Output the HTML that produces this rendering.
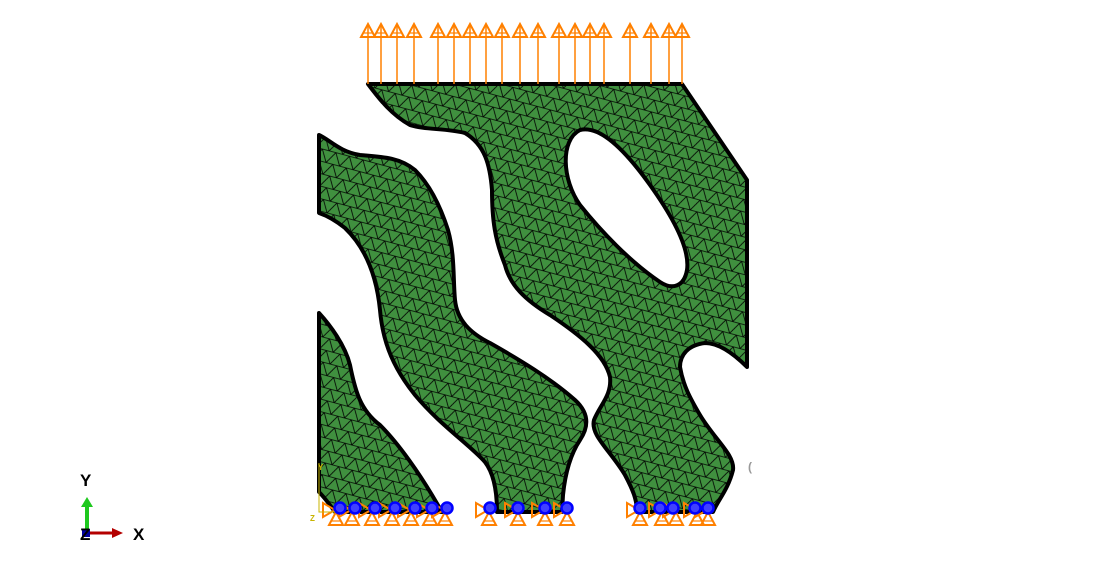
<!DOCTYPE html>
<html><head><meta charset="utf-8">
<style>
html,body{margin:0;padding:0;background:#fff;}
svg{display:block;}
text{font-family:"Liberation Sans",sans-serif;font-weight:bold;}
</style></head>
<body>
<svg id="s" width="1096" height="587" viewBox="0 0 1096 587" xmlns="http://www.w3.org/2000/svg">
<defs>
<pattern id="mesh" width="14" height="12.1" patternUnits="userSpaceOnUse" patternTransform="rotate(15)">
<rect width="14" height="12.1" fill="#40903f"/>
<path d="M0,0 L14,0 M0,0 L7,12.1 L14,0 M0,12.1 L14,12.1" stroke="#000" stroke-width="0.8" fill="none"/>
</pattern>
</defs>
<g fill="url(#mesh)" stroke="#000" stroke-width="4" stroke-linejoin="round">
<path fill-rule="evenodd"
d="M368,84 L682,84 L747,180 L747,367 C735,355 720,343 705,343 C688,345 680,355 680,367 C683,385 690,398 700,415 C715,440 735,455 733,470 C728,490 718,500 713,512 L637,512 C637,500 633,490 625,475 C610,450 590,435 594,420 C600,405 612,395 610,377 C605,355 580,335 550,315 C525,300 510,285 505,265 C495,240 492,220 492,190 C490,165 485,145 465,133 C445,128 425,130 410,125 C392,115 380,100 368,84 Z
M580,130 C600,125 625,150 650,185 C675,220 690,250 687,270 C684,287 672,290 660,282 C630,262 600,230 580,205 C562,180 560,140 580,130 Z"/>
<path
d="M319,135 C330,140 340,152 360,155 C385,157 400,158 415,170 C430,185 440,205 448,230 C455,255 453,280 455,300 C457,320 470,333 490,343 C520,360 550,378 575,400 C588,412 590,425 580,440 C570,455 565,475 563,495 L562,512 L497,512 C497,495 495,475 485,462 C470,445 440,425 415,395 C395,370 383,345 380,310 C377,280 368,250 345,228 C335,220 325,215 319,213 Z"/>
<path
d="M319,313 C330,325 345,345 350,365 C355,390 360,410 380,425 C400,445 420,475 432,495 L442,512 L335,512 C330,505 325,498 319,492 Z"/>
</g>
<g id="loads"></g>
<g id="bcs"></g>
<g stroke="#c8b400" fill="none" stroke-width="1">
<path d="M319,463 L319,512 L335,512"/>
<text x="310" y="521" font-size="8" fill="#c8b400" stroke="none" font-weight="normal">Z</text>
<text x="318" y="470" font-size="8" fill="#c8b400" stroke="none" font-weight="normal">Y</text>
</g>
<text x="748" y="471" font-size="12" fill="#999" font-weight="normal">(</text>
<g>
<line x1="87" y1="533" x2="87" y2="506" stroke="#1ec81e" stroke-width="4"/>
<polygon points="81,507 93,507 87,497" fill="#1ec81e"/>
<line x1="90" y1="533" x2="114" y2="533" stroke="#b40000" stroke-width="3"/>
<polygon points="112,528 112,538 123,533" fill="#b40000"/>
<rect x="82" y="529" width="8" height="8" fill="#0000a0"/>
<text x="80" y="486" font-size="17" fill="#000">Y</text>
<text x="80" y="540" font-size="17" fill="#000">Z</text>
<text x="133" y="540" font-size="17" fill="#000">X</text>
</g>
</svg>
<script>
var loadXs=[368,381,397,414,438,454,470,486,502,520,538,559,575,590,604,630,651,669,682];
var circleXs=[340,355,375,395,415,432,447,490,518,545,567,640,660,673,695,708];
var triXs=[336,352,372,392,411,430,445,489,518,545,567,640,662,676,697,708];
var NS='http://www.w3.org/2000/svg';
function mk(tag,attrs,parent){var e=document.createElementNS(NS,tag);for(var k in attrs)e.setAttribute(k,attrs[k]);parent.appendChild(e);return e;}
var L=document.getElementById('loads');
loadXs.forEach(function(x){
  var g=mk('g',{},L);
  
  
  mk('line',{x1:x,y1:84,x2:x,y2:26,stroke:'#ff8000','stroke-width':1.5},g);
  mk('polygon',{points:(x-7)+',37 '+(x+7)+',37 '+x+',24',fill:'none',stroke:'#ff8000','stroke-width':2},g);
  mk('line',{x1:x-5,y1:33,x2:x+5,y2:33,stroke:'#ff8000','stroke-width':1.2},g);
});
var B=document.getElementById('bcs');
triXs.forEach(function(x){
  var g=mk('g',{},B);
  
  
  mk('polygon',{points:(x-7)+',525 '+(x+7)+',525 '+x+',512',fill:'none',stroke:'#ff8000','stroke-width':2},g);
  mk('line',{x1:x-5,y1:521,x2:x+5,y2:521,stroke:'#ff8000','stroke-width':1.2},g);
  mk('polygon',{points:(x-13)+',503 '+(x-13)+',517 '+(x-1)+',510',fill:'none',stroke:'#ff8000','stroke-width':2},g);
});
circleXs.forEach(function(x){
  var c=mk('circle',{cx:x,cy:508,r:5.5,fill:'#4040ff',stroke:'#0000ff','stroke-width':2.5},B);
  
  
});
</script>
</body></html>
